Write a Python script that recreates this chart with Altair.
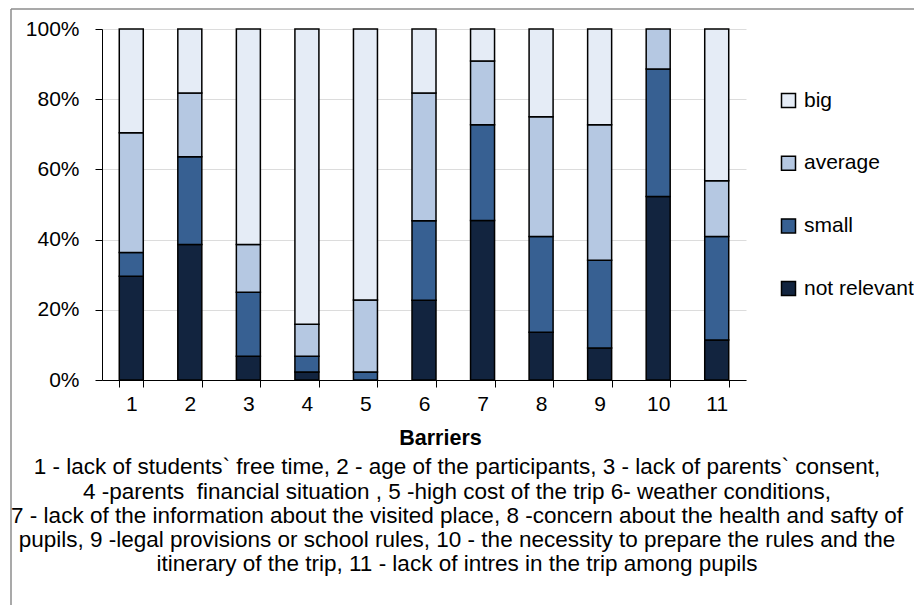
import altair as alt
import pandas as pd

# Share of answers (%) for each barrier, by how big the barrier is
barriers = ["1", "2", "3", "4", "5", "6", "7", "8", "9", "10", "11"]
not_relevant = [29.5, 38.6, 6.8, 2.3, 0.0, 22.7, 45.5, 13.6, 9.1, 52.3, 11.4]
small = [6.8, 25.0, 18.2, 4.5, 2.3, 22.7, 27.3, 27.3, 25.0, 36.4, 29.5]
average = [34.1, 18.2, 13.6, 9.1, 20.5, 36.4, 18.2, 34.1, 38.6, 11.4, 15.9]
big = [29.5, 18.2, 61.4, 84.1, 77.3, 18.2, 9.1, 25.0, 27.3, 0.0, 43.2]

levels = ["not relevant", "small", "average", "big"]
legend_order = ["big", "average", "small", "not relevant"]
colors = ["#e5ecf6", "#b5c8e2", "#376092", "#12243f"]

caption = [
    "1 - lack of students` free time, 2 - age of the participants, 3 - lack of parents` consent,",
    "4 -parents\u00a0 financial situation , 5 -high cost of the trip 6- weather conditions,",
    "7 - lack of the information about the visited place, 8 -concern about the health and safty of",
    "pupils, 9 -legal provisions or school rules, 10 - the necessity to prepare the rules and the",
    "itinerary of the trip, 11 - lack of intres in the trip among pupils",
]

FONT = "Liberation Sans, Arial, sans-serif"

rows = []
for series, values in zip(levels, [not_relevant, small, average, big]):
    for b, v in zip(barriers, values):
        rows.append({"barrier": b, "level": series, "value": v, "rank": levels.index(series)})
df = pd.DataFrame(rows)

bars = (
    alt.Chart(df)
    .transform_filter("datum.value > 0")
    .mark_bar(stroke="black", strokeWidth=1.5)
    .encode(
        x=alt.X(
            "barrier:N",
            sort=barriers,
            scale=alt.Scale(paddingInner=0.59, paddingOuter=0.295),
            axis=alt.Axis(
                labelAngle=0,
                tickBand="extent",
                tickSize=7,
                tickColor="black",
                domainColor="black",
                labelFontSize=21,
                labelPadding=6,
                labelColor="black",
                title="Barriers",
                titleFontSize=21.5,
                titleFontWeight="bold",
                titleColor="black",
                titlePadding=13,
                titleX=338,
                grid=False,
            ),
        ),
        y=alt.Y(
            "value:Q",
            stack="normalize",
            scale=alt.Scale(domain=[0, 1]),
            axis=alt.Axis(
                format="%",
                values=[0, 0.2, 0.4, 0.6, 0.8, 1.0],
                tickSize=7,
                tickColor="black",
                domainColor="black",
                gridColor="#dcdcdc",
                labelFontSize=21,
                labelPadding=16,
                labelColor="black",
                title=None,
            ),
        ),
        color=alt.Color(
            "level:N",
            scale=alt.Scale(domain=legend_order, range=colors),
            legend=alt.Legend(
                title=None,
                orient="none",
                legendX=676,
                legendY=61,
                symbolType="square",
                symbolSize=196,
                symbolStrokeColor="black",
                symbolStrokeWidth=1.5,
                symbolOpacity=1,
                labelFontSize=21,
                labelColor="black",
                labelOffset=5,
                rowPadding=40.7,
                padding=0,
            ),
        ),
        order=alt.Order("rank:Q", sort="ascending"),
    )
)

# Grey outer frame of the chart area (left and top edges)
frame_df = pd.DataFrame({"k": [0]})
frame_left = alt.Chart(frame_df).mark_rule(color="#8c8c8c", strokeWidth=1.5).encode(
    x=alt.value(-91), y=alt.value(-20), y2=alt.value(576)
)
frame_top = alt.Chart(frame_df).mark_rule(color="#8c8c8c", strokeWidth=1.5).encode(
    x=alt.value(-91), x2=alt.value(812), y=alt.value(-20)
)

chart = (
    alt.layer(bars, frame_left, frame_top)
    .properties(
        width=644,
        height=351,
        autosize=alt.AutoSizeParams(type="none"),
        padding={"left": 102, "top": 29, "right": 168, "bottom": 225},
        title=alt.TitleParams(
            text=caption,
            orient="bottom",
            anchor="middle",
            fontSize=22.5,
            fontWeight="normal",
            font=FONT,
            color="black",
            lineHeight=24.3,
            offset=-149.5,
            dx=33,
        ),
    )
    .configure(font=FONT)
    .configure_view(stroke=None)
    .configure_axis(labelFont=FONT, titleFont=FONT)
    .configure_legend(labelFont=FONT)
)

chart.save("out.html", embed_options={"renderer": "svg", "actions": False})
